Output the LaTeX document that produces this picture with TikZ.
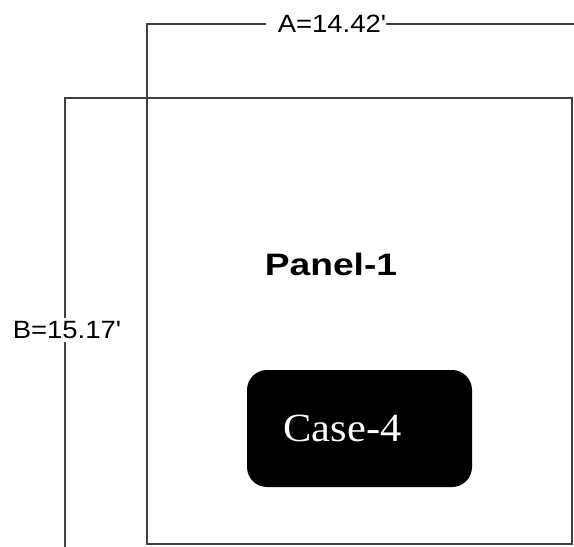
\documentclass[tikz,border=0pt]{standalone}
\usepackage{fontspec}
\setmainfont{Liberation Serif}
\setsansfont{Liberation Sans}
\usepackage{tikz}
\usetikzlibrary{positioning}

\tikzset{
  dimlabel/.style={fill=white,inner sep=1pt,font=\sffamily\fontsize{25}{25}\selectfont,xscale=1.1},
  wall/.style={draw=black!75,line width=1.4pt},
  casebox/.style={fill=black,rounded corners=20pt,minimum width=225pt,minimum height=117pt,inner sep=0pt}
}

\begin{document}
\begin{tikzpicture}[x=1pt,y=-1pt]
\useasboundingbox (0,0) rectangle (574,547);
% panel outline
\draw[wall] (147,98) rectangle (572,544);
% dimension A
\node[dimlabel,inner xsep=0pt] (alab) at (332,24) {A=14.42\textquotesingle};
\draw[wall] (147,98) -- (147,24) -- ([xshift=-12pt]alab.west);
\draw[wall] (alab.east) -- (574,24);
% dimension B
\node[dimlabel,inner ysep=3pt] (blab) at (67,330) {B=15.17\textquotesingle};
\draw[wall] (147,98) -- (65,98) -- (65,98 |- blab.north);
\draw[wall] (65,98 |- blab.south) -- (65,547);
% labels
\node[font=\sffamily\bfseries\fontsize{31}{31}\selectfont,xscale=1.2] (panel) at (331,264) {Panel-1};
\node[casebox] (case) at (359.5,428.5) {};
\node[text=white,font=\fontsize{40}{40}\selectfont,xscale=1.06] (caselab) at (342.5,428.5) {Case-4};
\end{tikzpicture}
\end{document}
